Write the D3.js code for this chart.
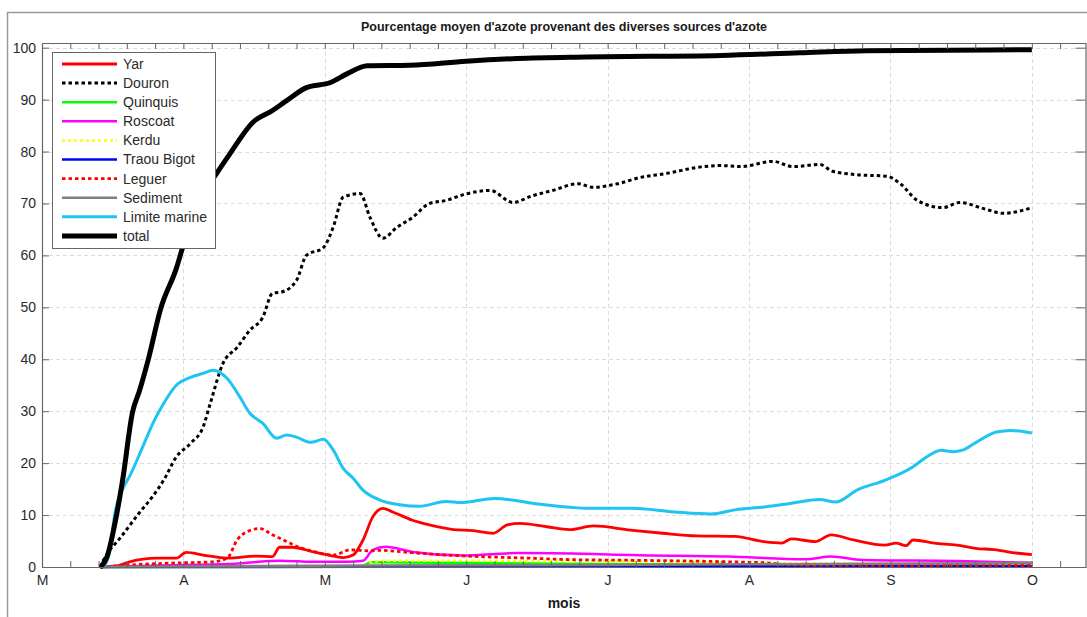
<!DOCTYPE html>
<html>
<head>
<meta charset="utf-8">
<script src="https://cdn.jsdelivr.net/npm/d3@7"></script>
<style>
  body { margin: 0; background: #fff; }
  svg { display: block; font-family: "Liberation Sans", Arial, sans-serif; }
</style>
</head>
<body>
<script>
// dimensions (1087x617 page)
let width = 1087
let height = 617
let margin = {top: 43, right: 1, bottom: 50, left: 42}

// month labels (x = month index, March = 0)
const monthLabels = ["M", "A", "M", "J", "J", "A", "S", "O"]
const yTicks = [0, 10, 20, 30, 40, 50, 60, 70, 80, 90, 100]

// series: [month, percent]
const yar = [[0.41,0],[0.53,0.2],[0.62,1.0],[0.81,1.7],[0.95,1.7],[1.02,2.8],[1.14,2.3],[1.31,1.7],
  [1.52,2.1],[1.63,2.0],[1.68,3.8],[1.77,3.8],[1.92,2.9],[2.06,2.1],[2.13,1.8],[2.2,2.3],[2.27,5.2],
  [2.34,9.7],[2.41,11.3],[2.48,10.6],[2.62,9.0],[2.74,8.1],[2.91,7.2],[3.05,7.0],[3.19,6.5],[3.29,8.1],
  [3.38,8.4],[3.57,7.75],[3.73,7.2],[3.9,7.9],[4.16,7.1],[4.39,6.5],[4.63,6.0],[4.9,5.9],[5.1,4.9],
  [5.23,4.6],[5.3,5.4],[5.47,4.9],[5.58,6.2],[5.74,5.2],[5.96,4.2],[6.04,4.6],[6.11,4.1],[6.16,5.2],
  [6.31,4.6],[6.47,4.2],[6.6,3.6],[6.75,3.3],[6.83,2.9],[7.0,2.4]]
const douron = [[0.41,0],[0.46,2.5],[0.55,5.5],[0.69,10.5],[0.78,13.5],[0.86,16.7],[0.95,21.2],
  [1.05,23.8],[1.14,27],[1.19,31.5],[1.28,39.2],[1.38,42.3],[1.47,45.6],[1.56,48],[1.63,52.7],
  [1.7,53],[1.8,55.2],[1.87,60],[1.99,61.5],[2.06,65.5],[2.13,71.2],[2.25,71.9],[2.32,67.3],
  [2.41,63.3],[2.51,65.4],[2.62,67.3],[2.74,70],[2.86,70.6],[2.98,71.7],[3.17,72.5],[3.33,70.2],
  [3.47,71.5],[3.61,72.5],[3.79,73.8],[3.9,73.1],[4.07,73.8],[4.23,75],[4.42,75.8],[4.65,77],
  [4.8,77.3],[4.94,77.1],[5.17,78.1],[5.31,77.1],[5.5,77.5],[5.59,76.2],[5.74,75.6],[5.98,75.2],
  [6.07,73.8],[6.19,70.6],[6.37,69.2],[6.49,70.2],[6.66,69],[6.8,68.1],[7.0,69.2]]
const quinquis = [[0.41,0],[2.25,0.1],[2.33,0.9],[2.89,0.8],[3.95,0.6],[5.36,0.4],[7.0,0.3]]
const roscoat = [[0.41,0],[0.81,0.3],[1.33,0.6],[1.68,1.2],[1.92,1.0],[2.16,1.0],[2.27,1.2],[2.34,3.3],
  [2.43,3.9],[2.62,2.9],[2.98,2.2],[3.36,2.7],[3.9,2.5],[4.16,2.3],[4.85,2.0],[5.4,1.5],[5.58,2.0],
  [5.8,1.35],[6.47,1.15],[7.0,0.8]]
const kerdu = [[0.41,0],[2.25,0.1],[2.36,1.1],[2.53,1.2],[3.95,1.1],[5.0,0.8],[6.07,0.6],[7.0,0.5]]
const traouBigot = [[0.41,0],[2.32,0.05],[2.53,0.2],[7.0,0.2]]
const leguer = [[0.41,0],[0.76,0.6],[0.98,0.8],[1.21,1.0],[1.31,1.7],[1.38,5.2],[1.45,6.8],[1.54,7.4],
  [1.63,6.2],[1.73,4.9],[1.8,4.0],[1.92,3.0],[2.06,2.3],[2.18,3.3],[2.32,3.1],[2.39,3.2],[2.62,2.75],
  [2.86,2.3],[3.1,2.0],[3.45,1.7],[3.77,1.4],[4.16,1.3],[4.85,1.0],[5.12,0.8],[5.29,0.4],[5.57,0.3],[7.0,0.3]]
const sediment = [[0.41,0],[2.3,0.3],[4.0,0.4],[5.5,0.6],[7.0,0.8]]
const limiteMarine = [[0.43,0],[0.47,2],[0.52,11],[0.57,15],[0.62,17.5],[0.71,23],[0.79,28],[0.86,31.5],
  [0.95,35],[1.05,36.5],[1.14,37.3],[1.21,37.9],[1.31,36.3],[1.4,32.7],[1.47,29.6],[1.56,27.7],
  [1.66,24.8],[1.73,25.4],[1.8,25],[1.9,24],[1.99,24.6],[2.06,22.5],[2.13,19],[2.2,17.1],[2.27,14.8],
  [2.39,12.9],[2.53,12.0],[2.67,11.7],[2.86,12.6],[2.96,12.4],[3.2,13.2],[3.49,12.2],[3.88,11.3],
  [4.17,11.3],[4.47,10.6],[4.73,10.2],[4.9,11.0],[5.12,11.6],[5.28,12.2],[5.5,13.0],[5.61,12.5],
  [5.77,14.9],[5.96,16.7],[6.16,19.3],[6.24,20.9],[6.36,22.5],[6.44,22.2],[6.51,22.5],[6.6,23.9],
  [6.75,26],[6.85,26.3],[7.0,25.8]]
const total = [[0.41,0],[0.43,0.5],[0.46,2],[0.52,9],[0.57,16.7],[0.64,29.8],[0.69,34],[0.75,39.8],
  [0.84,49.8],[0.95,57.5],[1.0,62],[1.1,69],[1.17,73],[1.24,76],[1.33,79.6],[1.49,85.6],[1.63,87.9],
  [1.73,89.8],[1.87,92.3],[2.04,93.3],[2.16,95],[2.3,96.5],[2.6,96.6],[3.0,97.4],[3.36,97.9],[3.85,98.2],
  [4.8,98.5],[5.36,99.0],[5.83,99.4],[6.42,99.5],[7.0,99.6]]

const series = [
  {name: "Yar", data: yar, color: "#ff0000", w: 2.8},
  {name: "Douron", data: douron, color: "#000000", w: 3, dash: "3.5,3"},
  {name: "Quinquis", data: quinquis, color: "#00ff00", w: 2.5},
  {name: "Roscoat", data: roscoat, color: "#ff00ff", w: 2.5},
  {name: "Kerdu", data: kerdu, color: "#ffff00", w: 2.5, dash: "3,3"},
  {name: "Traou Bigot", data: traouBigot, color: "#0000ff", w: 2.5},
  {name: "Leguer", data: leguer, color: "#ff0000", w: 2.8, dash: "3.5,3"},
  {name: "Sediment", data: sediment, color: "#808080", w: 2.5},
  {name: "Limite marine", data: limiteMarine, color: "#1ec4f2", w: 3},
  {name: "total", data: total, color: "#000000", w: 5}
]

const svg = d3.select("body").append("svg")
  .attr("width", width)
  .attr("height", height)

// outer figure frame
svg.append("path")
  .attr("d", `M7.5,${height} V12.5 H${width}`)
  .attr("fill", "none")
  .attr("stroke", "#9a9a9a")
  .attr("stroke-width", 1.5)

const x = d3.scaleLinear()
  .domain([0, 7.383])
  .range([margin.left, width - margin.right])

const y = d3.scaleLinear()
  .domain([0, 100.9])
  .range([height - margin.bottom, margin.top])

// grid
const grid = svg.append("g")
  .attr("stroke", "#dcdcdc")
  .attr("stroke-width", 1)
  .attr("stroke-dasharray", "4,3")
grid.selectAll(".gy").data(yTicks.slice(1)).join("line")
  .attr("x1", x.range()[0]).attr("x2", x.range()[1])
  .attr("y1", d => Math.round(y(d)) + 0.5).attr("y2", d => Math.round(y(d)) + 0.5)
grid.selectAll(".gx").data(d3.range(1, monthLabels.length)).join("line")
  .attr("x1", d => Math.round(x(d)) + 0.5).attr("x2", d => Math.round(x(d)) + 0.5)
  .attr("y1", y.range()[0]).attr("y2", y.range()[1])

// lines
const line = d3.line()
  .x(d => x(d[0]))
  .y(d => y(d[1]))
  .curve(d3.curveMonotoneX)

svg.append("g")
  .selectAll("path")
  .data(series)
  .join("path")
  .attr("fill", "none")
  .attr("stroke", d => d.color)
  .attr("stroke-width", d => d.w)
  .attr("stroke-dasharray", d => d.dash || null)
  .attr("stroke-linejoin", "round")
  .attr("d", d => line(d.data))

// axes
const minor = d3.range(0, 37).map(i => i / 5)
const axisColor = "#666"

const styleAxis = g => {
  g.selectAll("path.domain").attr("stroke", axisColor).attr("stroke-width", 1.2)
  g.selectAll(".tick line").attr("stroke", axisColor)
  g.selectAll(".tick text").attr("fill", "#2a2a2a").style("font-size", "14px")
    .style("font-family", "Liberation Sans, Arial, sans-serif")
}

svg.append("g")
  .attr("transform", `translate(0,${y(0)})`)
  .call(d3.axisBottom(x).tickValues(minor).tickSize(-6).tickSizeOuter(0).tickPadding(8)
    .tickFormat(d => Math.abs(d - Math.round(d)) < 1e-6 && monthLabels[Math.round(d)] ? monthLabels[Math.round(d)] : ""))
  .call(styleAxis)

svg.append("g")
  .attr("transform", `translate(0,${y.range()[1]})`)
  .call(d3.axisTop(x).tickValues(minor).tickSize(-6).tickSizeOuter(0).tickFormat(""))
  .call(styleAxis)

svg.append("g")
  .attr("transform", `translate(${x.range()[0]},0)`)
  .call(d3.axisLeft(y).tickValues(yTicks).tickSize(-7).tickSizeOuter(0).tickPadding(6))
  .call(styleAxis)

svg.append("g")
  .attr("transform", `translate(${x.range()[1] - 0.5},0)`)
  .call(d3.axisRight(y).tickValues(yTicks).tickSize(-10).tickSizeOuter(0).tickFormat(""))
  .call(styleAxis)

// title and x label
svg.append("text")
  .attr("x", (x.range()[0] + x.range()[1]) / 2)
  .attr("y", 31)
  .attr("text-anchor", "middle")
  .attr("font-weight", "bold")
  .attr("font-size", 12.5)
  .attr("fill", "#1a1a1a")
  .text("Pourcentage moyen d'azote provenant des diverses sources d'azote")

svg.append("text")
  .attr("x", (x.range()[0] + x.range()[1]) / 2)
  .attr("y", 608)
  .attr("text-anchor", "middle")
  .attr("font-weight", "bold")
  .attr("font-size", 14)
  .attr("fill", "#1a1a1a")
  .text("mois")

// legend
const legend = svg.append("g")
legend.append("rect")
  .attr("x", 52.5).attr("y", 52.5)
  .attr("width", 163).attr("height", 196)
  .attr("fill", "#fff")
  .attr("stroke", "#666")
  .attr("stroke-width", 1)

const item = legend.selectAll("g.item")
  .data(series)
  .join("g")
  .attr("transform", (d, i) => `translate(0,${64 + i * 19.1})`)

item.append("line")
  .attr("x1", 62).attr("x2", 117)
  .attr("stroke", d => d.color)
  .attr("stroke-width", d => Math.min(d.w, 3.2))
  .attr("stroke-dasharray", d => d.dash || null)
  .filter(d => d.name === "total").attr("stroke-width", 5)

item.append("text")
  .attr("x", 123)
  .attr("dy", "0.35em")
  .attr("font-size", 14)
  .attr("fill", "#2a2a2a")
  .text(d => d.name)
</script>
</body>
</html>
